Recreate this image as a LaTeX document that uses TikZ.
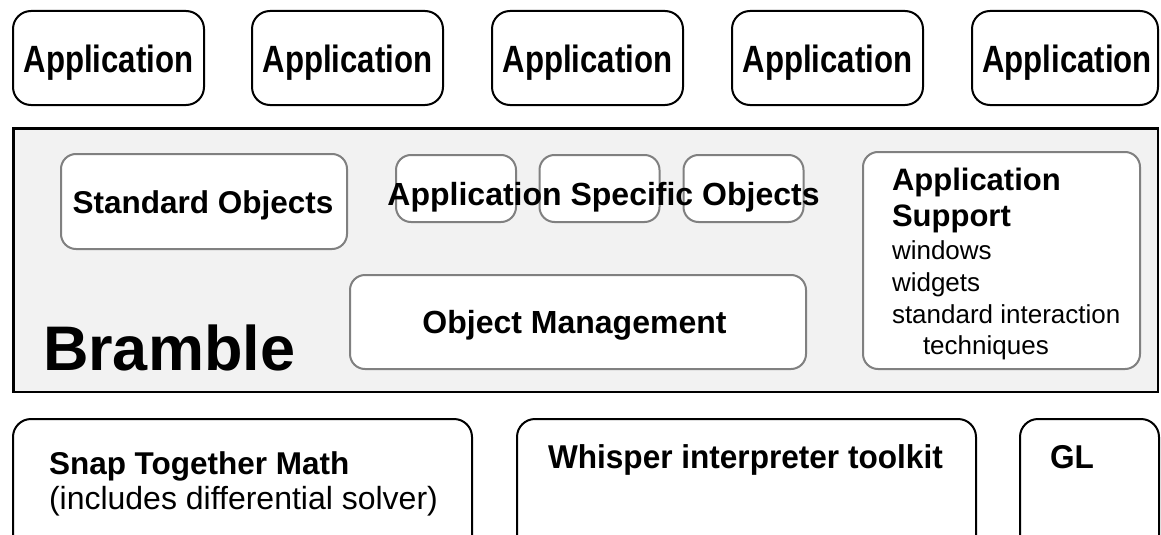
\documentclass[tikz,border=0pt]{standalone}
\usepackage{fontspec}
\setmainfont{Liberation Sans}
\definecolor{bramblefill}{HTML}{F2F2F2}
\definecolor{innergray}{HTML}{808080}
\newcommand{\fs}[1]{\fontsize{#1}{#1}\selectfont}
\begin{document}
\begin{tikzpicture}[x=1pt,y=-1pt,
  blkbox/.style={draw=black, line width=2pt, rounded corners=18pt, fill=white, inner sep=0pt, outer sep=0pt},
  grybox/.style={draw=innergray, line width=2pt, rounded corners=15pt, fill=white, inner sep=0pt, outer sep=0pt},
  bramblebox/.style={draw=black, line width=2.5pt, fill=bramblefill, inner sep=0pt, outer sep=0pt},
  lbl/.style={inner sep=0pt, outer sep=0pt, text=black},
  apptext/.style={lbl, anchor=base, font=\fs{38}\bfseries},
]
\useasboundingbox (0,0) rectangle (1161,535);
\clip (0,0) rectangle (1161,535);
\fill[white] (0,0) rectangle (1161,535);

% top application boxes
\node[blkbox, minimum width=191pt, minimum height=94pt] (a1) at (108.5,58) {};
\node[blkbox, minimum width=191pt, minimum height=94pt] (a2) at (347.5,58) {};
\node[blkbox, minimum width=191pt, minimum height=94pt] (a3) at (587.5,58) {};
\node[blkbox, minimum width=191pt, minimum height=94pt] (a4) at (827.5,58) {};
\node[blkbox, minimum width=186pt, minimum height=94pt] (a5) at (1065,58) {};
\node[apptext] (t1) at (108.5,73) {\scalebox{0.82}[1]{Application}};
\node[apptext] (t2) at (347.5,73) {\scalebox{0.82}[1]{Application}};
\node[apptext] (t3) at (587.5,73) {\scalebox{0.82}[1]{Application}};
\node[apptext] (t4) at (827.5,73) {\scalebox{0.82}[1]{Application}};
\node[apptext] (t5) at (1067,73) {\scalebox{0.82}[1]{Application}};

% Bramble layer
\node[bramblebox, minimum width=1144.5pt, minimum height=263.5pt] (bramble) at (585.5,260) {};
\node[lbl, anchor=base west, font=\fs{63}\bfseries] (brambletext) at (43,370) {Bramble};

\node[grybox, minimum width=286pt, minimum height=95pt] (std) at (204,201.5) {};
\node[lbl, anchor=base, font=\fs{31.5}\bfseries] (stdtext) at (203,213) {Standard Objects};

\node[grybox, minimum width=120pt, minimum height=67pt] (aso1) at (456,188.5) {};
\node[grybox, minimum width=120pt, minimum height=67pt] (aso2) at (599.5,188.5) {};
\node[grybox, minimum width=120pt, minimum height=67pt] (aso3) at (743.5,188.5) {};
\node[lbl, anchor=base, font=\fs{32}\bfseries] (asotext) at (603.5,205) {Application Specific Objects};

\node[grybox, minimum width=456pt, minimum height=94pt] (om) at (578,322) {};
\node[lbl, anchor=base, font=\fs{32}\bfseries] (omtext) at (574.5,333) {Object Management};

\node[grybox, minimum width=277pt, minimum height=217pt] (as) at (1001.5,260.5) {};
\node[lbl, anchor=base west, font=\fs{31}\bfseries] (as1) at (892,190) {Application};
\node[lbl, anchor=base west, font=\fs{31}\bfseries] (as2) at (892,226) {Support};
\node[lbl, anchor=base west, font=\fs{26}] (as3) at (892,259) {windows};
\node[lbl, anchor=base west, font=\fs{26}] (as4) at (892,291) {widgets};
\node[lbl, anchor=base west, font=\fs{26}] (as5) at (892,323) {standard interaction};
\node[lbl, anchor=base west, font=\fs{26}] (as6) at (923,354) {techniques};

% bottom boxes
\node[blkbox, minimum width=459pt, minimum height=181pt] (snap) at (242.5,509.5) {};
\node[blkbox, minimum width=459pt, minimum height=181pt] (whisper) at (746.5,509.5) {};
\node[blkbox, minimum width=139pt, minimum height=181pt] (gl) at (1089.5,509.5) {};
\node[lbl, anchor=base west, font=\fs{31.5}\bfseries] (snap1) at (49,474) {Snap Together Math};
\node[lbl, anchor=base west, font=\fs{32}] (snap2) at (49,509) {(includes differential solver)};
\node[lbl, anchor=base west, font=\fs{33}\bfseries] (whtext) at (548,468) {\scalebox{0.957}[1]{Whisper interpreter toolkit}};
\node[lbl, anchor=base west, font=\fs{33}\bfseries] (gltext) at (1050,468) {\scalebox{0.957}[1]{GL}};
\end{tikzpicture}
\end{document}
